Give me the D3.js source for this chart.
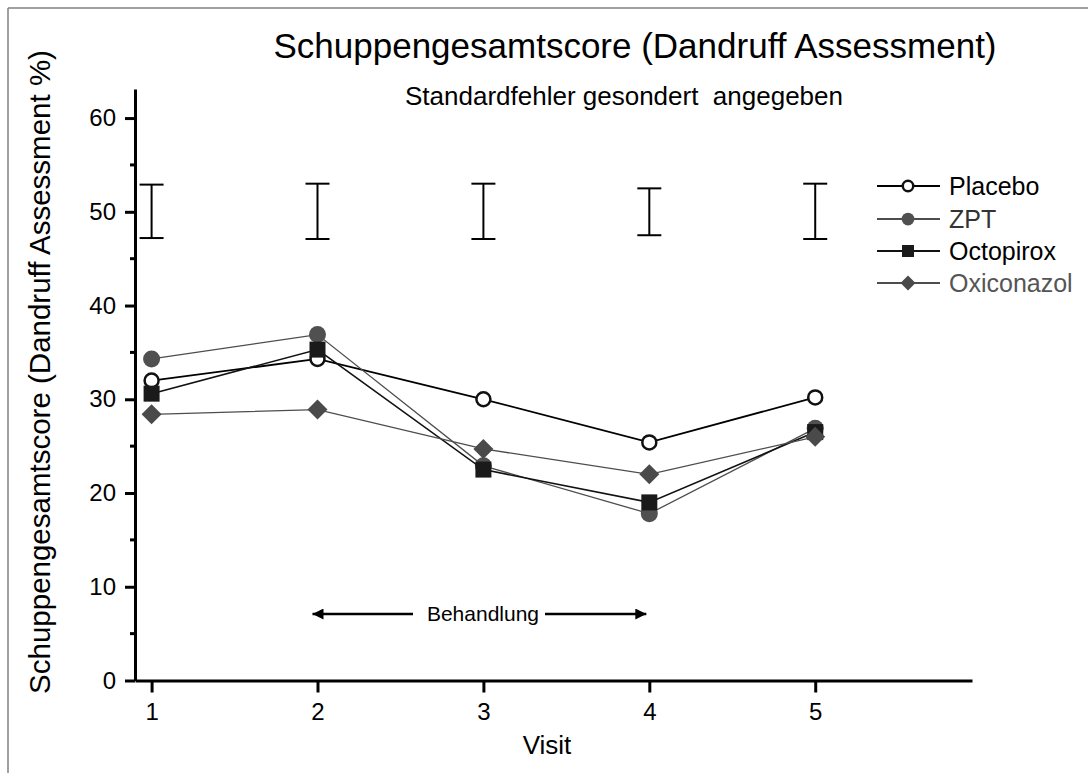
<!DOCTYPE html>
<html>
<head>
<meta charset="utf-8">
<script src="https://cdn.jsdelivr.net/npm/d3@7"></script>
<style>
  html, body { margin: 0; background: #fff; overflow: hidden; }
  svg { display: block; }
  text { font-family: "Liberation Sans", Arial, Helvetica, sans-serif; }
</style>
</head>
<body>
<script>
// values
const visits = [1, 2, 3, 4, 5];
const placebo = [32.0, 34.3, 30.0, 25.4, 30.2];
const zpt = [34.3, 36.9, 22.9, 17.8, 26.9];
const octopirox = [30.6, 35.3, 22.5, 19.0, 26.5];
const oxiconazol = [28.4, 28.9, 24.7, 22.0, 26.0];
const seLow = [47.2, 47.1, 47.1, 47.5, 47.1];
const seHigh = [52.9, 53.0, 53.0, 52.5, 53.0];
const yTicks = [0, 10, 20, 30, 40, 50, 60];
const yMinor = [5, 15, 25, 35, 45, 55];
const seriesNames = ["Placebo", "ZPT", "Octopirox", "Oxiconazol"];

function go() {
    const width = 1088, height = 773;

    const x = d3.scaleLinear().domain([0.9, 5.945]).range([135, 972]);
    const y = d3.scaleLinear().domain([0, 63.1]).range([680.5, 89]);

    const svg = d3.select("body").append("svg")
        .attr("width", width)
        .attr("height", height);

    // frame: only the top and left edges are in the picture
    const frame = svg.append("g").attr("stroke", "#808080").attr("stroke-width", 1.5);
    frame.append("line").attr("x1", 8).attr("x2", width).attr("y1", 8).attr("y2", 8);
    frame.append("line").attr("x1", 8).attr("x2", 8).attr("y1", 8).attr("y2", height);

    // title
    svg.append("text")
        .attr("x", 635).attr("y", 58)
        .attr("text-anchor", "middle")
        .attr("font-size", 35)
        .text("Schuppengesamtscore (Dandruff Assessment)");

    svg.append("text")
        .attr("x", 624).attr("y", 105)
        .attr("text-anchor", "middle")
        .attr("font-size", 26)
        .style("white-space", "pre")
        .text("Standardfehler gesondert  angegeben");

    // y axis
    const yAxis = svg.append("g")
        .attr("transform", "translate(135,0)")
        .call(d3.axisLeft(y).tickValues(yTicks).tickSize(10).tickPadding(9).tickSizeOuter(0));
    yAxis.select(".domain").attr("stroke-width", 3);
    yAxis.selectAll(".tick line").attr("stroke-width", 3);
    yAxis.selectAll(".tick text").attr("font-size", 24).attr("font-family", null);

    svg.append("g")
        .selectAll("line")
        .data(yMinor)
        .enter().append("line")
        .attr("x1", 130).attr("x2", 135)
        .attr("y1", function(d) { return y(d); })
        .attr("y2", function(d) { return y(d); })
        .attr("stroke", "#000")
        .attr("stroke-width", 3);

    // x axis
    const xAxis = svg.append("g")
        .attr("transform", "translate(0," + y(0) + ")")
        .call(d3.axisBottom(x).tickValues(visits).tickFormat(d3.format("d")).tickSize(12).tickPadding(10).tickSizeOuter(0));
    xAxis.select(".domain").attr("stroke-width", 3);
    xAxis.selectAll(".tick line").attr("stroke-width", 3);
    xAxis.selectAll(".tick text").attr("font-size", 24).attr("font-family", null);

    // axis titles
    svg.append("text")
        .attr("x", 547).attr("y", 754)
        .attr("text-anchor", "middle")
        .attr("font-size", 26)
        .text("Visit");

    svg.append("text")
        .attr("transform", "translate(50,372) rotate(-90)")
        .attr("text-anchor", "middle")
        .attr("font-size", 29.5)
        .text("Schuppengesamtscore (Dandruff Assessment %)");

    // standard error bars
    const se = svg.append("g").attr("stroke", "#000").attr("stroke-width", 2);
    visits.forEach(function(v, i) {
        const cx = x(v);
        se.append("line").attr("x1", cx).attr("x2", cx).attr("y1", y(seLow[i])).attr("y2", y(seHigh[i]));
        se.append("line").attr("x1", cx - 12).attr("x2", cx + 12).attr("y1", y(seLow[i])).attr("y2", y(seLow[i]));
        se.append("line").attr("x1", cx - 12).attr("x2", cx + 12).attr("y1", y(seHigh[i])).attr("y2", y(seHigh[i]));
    });

    // Behandlung arrow
    const defs = svg.append("defs");
    defs.append("marker")
        .attr("id", "arr")
        .attr("viewBox", "0 0 10 10")
        .attr("refX", 10).attr("refY", 5)
        .attr("markerUnits", "userSpaceOnUse")
        .attr("markerWidth", 18).attr("markerHeight", 11)
        .attr("orient", "auto-start-reverse")
        .append("path")
        .attr("d", "M0,0L10,5L0,10z")
        .attr("fill", "#000");

    const ay = 614;
    svg.append("line")
        .attr("x1", 413).attr("x2", x(2) - 5)
        .attr("y1", ay).attr("y2", ay)
        .attr("stroke", "#000").attr("stroke-width", 2.5)
        .attr("marker-end", "url(#arr)");
    svg.append("line")
        .attr("x1", 545).attr("x2", x(4) - 3)
        .attr("y1", ay).attr("y2", ay)
        .attr("stroke", "#000").attr("stroke-width", 2.5)
        .attr("marker-end", "url(#arr)");
    svg.append("text")
        .attr("x", 483).attr("y", ay + 7)
        .attr("text-anchor", "middle")
        .attr("font-size", 21)
        .text("Behandlung");

    // series
    const series = [
        {name: "Placebo", values: placebo, line: "#000", lw: 1.8, shape: "circle-open", fill: "#fff", text: "#000"},
        {name: "ZPT", values: zpt, line: "#4d4d4d", lw: 1.3, shape: "circle", fill: "#505050", text: "#333"},
        {name: "Octopirox", values: octopirox, line: "#111", lw: 1.6, shape: "square", fill: "#1a1a1a", text: "#000"},
        {name: "Oxiconazol", values: oxiconazol, line: "#4d4d4d", lw: 1.3, shape: "diamond", fill: "#4a4a4a", text: "#555"}
    ];

    const lineFunction = d3.line()
        .x(function(d, i) { return x(visits[i]); })
        .y(function(d) { return y(d); })
        .curve(d3.curveLinear);

    function drawMarker(g, shape, fill, cx, cy, big) {
        const s = big ? 1 : 0.75;
        if (shape == "circle-open") {
            g.append("circle").attr("cx", cx).attr("cy", cy).attr("r", 7 * s)
                .attr("fill", "#fff").attr("stroke", "#111").attr("stroke-width", 2.5);
        }
        else if (shape == "circle") {
            g.append("circle").attr("cx", cx).attr("cy", cy).attr("r", 8.5 * s)
                .attr("fill", fill);
        }
        else if (shape == "square") {
            const h = 8 * s;
            g.append("rect").attr("x", cx - h).attr("y", cy - h)
                .attr("width", 2 * h).attr("height", 2 * h)
                .attr("fill", fill);
        }
        else {
            const h = 10 * s;
            g.append("path")
                .attr("d", "M" + cx + "," + (cy - h) + "L" + (cx + h) + "," + cy + "L" + cx + "," + (cy + h) + "L" + (cx - h) + "," + cy + "Z")
                .attr("fill", fill);
        }
    }

    series.forEach(function(s) {
        const g = svg.append("g");
        g.append("path")
            .datum(s.values)
            .attr("d", lineFunction)
            .attr("fill", "none")
            .attr("stroke", s.line)
            .attr("stroke-width", s.lw);
        s.values.forEach(function(v, i) {
            drawMarker(g, s.shape, s.fill, x(visits[i]), y(v), true);
        });
    });

    // legend
    const legendY = [186, 219, 251, 283];
    series.forEach(function(s, i) {
        const g = svg.append("g");
        g.append("line")
            .attr("x1", 877).attr("x2", 940)
            .attr("y1", legendY[i]).attr("y2", legendY[i])
            .attr("stroke", s.line).attr("stroke-width", 2);
        drawMarker(g, s.shape, s.fill, 908, legendY[i], false);
        g.append("text")
            .attr("x", 949).attr("y", legendY[i] + 9)
            .attr("font-size", 25)
            .attr("fill", s.text)
            .text(seriesNames[i]);
    });
}

window.onload = function() {
    go();
}
</script>
</body>
</html>
